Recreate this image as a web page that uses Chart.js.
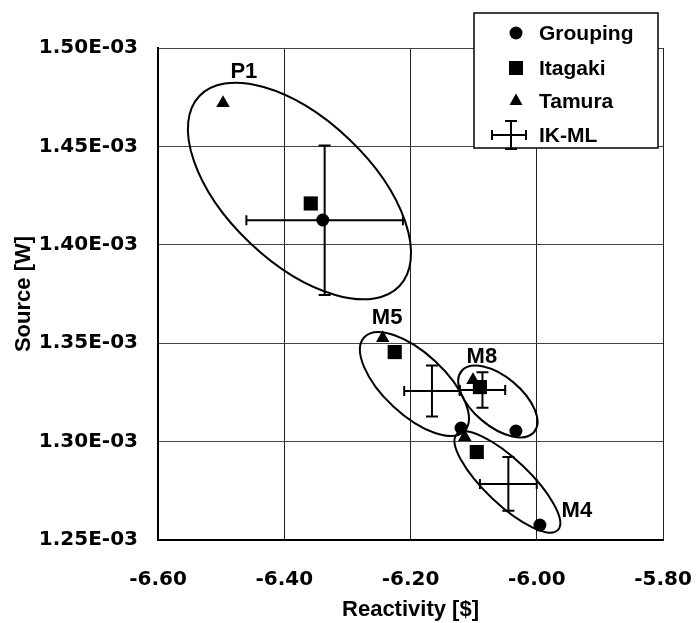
<!DOCTYPE html>
<html>
<head>
<meta charset="utf-8">
<script src="https://cdn.jsdelivr.net/npm/chart.js@4/dist/chart.umd.min.js"></script>
<style>
  html, body { margin: 0; padding: 0; background: #fff; }
</style>
</head>
<body>
<canvas id="myChart" width="699" height="623"></canvas>
<script>
// cluster names, in the order used by every array below
const groups = ['P1', 'M5', 'M8', 'M4']

// reactivity [$] and source [W] per method
const groupingX = [-6.339, -6.120, -6.033, -5.995]
const groupingY = [1.4126e-3, 1.3069e-3, 1.3054e-3, 1.2576e-3]
const itagakiX = [-6.358, -6.225, -6.090, -6.095]
const itagakiY = [1.4210e-3, 1.3455e-3, 1.3277e-3, 1.2947e-3]
const tamuraX = [-6.497, -6.244, -6.101, -6.114]
const tamuraY = [1.4720e-3, 1.3526e-3, 1.3313e-3, 1.3023e-3]
const ikmlX = [-6.336, -6.166, -6.086, -6.045]
const ikmlY = [1.4125e-3, 1.3257e-3, 1.3262e-3, 1.2785e-3]
const ikmlXErr = [0.124, 0.044, 0.036, 0.045]
const ikmlYErr = [0.0380e-3, 0.0130e-3, 0.0090e-3, 0.0137e-3]

// enclosing ellipses: centre, end of the long half-axis, short/long ratio
const ellCx = [-6.3759, -6.1938, -6.0616, -6.0465]
const ellCy = [1.42734e-3, 1.32927e-3, 1.32038e-3, 1.27947e-3]
const ellTipX = [-6.2174, -6.1143, -6.0041, -5.9664]
const ellTipY = [1.37907e-3, 1.30549e-3, 1.30488e-3, 1.25513e-3]
const ellRatio = [0.52, 0.45, 0.52, 0.32]

// where the cluster names sit
const labelX = [-6.464, -6.237, -6.087, -5.9365]
const labelY = [1.4878e-3, 1.3628e-3, 1.3430e-3, 1.2647e-3]

// axis ticks
const xTicks = [-6.6, -6.4, -6.2, -6.0, -5.8]
const yTicks = [1.25e-3, 1.30e-3, 1.35e-3, 1.40e-3, 1.45e-3, 1.50e-3]

const FONT = "'Liberation Sans', Arial, sans-serif"
const TICK_FONT = "'DejaVu Sans', sans-serif"

const pts = (xs, ys) => xs.map((x, i) => ({ x: x, y: ys[i] }))

function marker(ctx, style, x, y) {
  ctx.beginPath()
  if (style === 'circle') {
    ctx.arc(x, y, 6.5, 0, Math.PI * 2)
  } else if (style === 'rect') {
    ctx.rect(x - 7, y - 7, 14, 14)
  } else {
    ctx.moveTo(x, y - 7.5)
    ctx.lineTo(x + 6.5, y + 4)
    ctx.lineTo(x - 6.5, y + 4)
    ctx.closePath()
  }
  ctx.fill()
}

function crossBar(ctx, x0, x1, y0, y1, cx, cy, capH, capV) {
  ctx.beginPath()
  ctx.moveTo(x0, cy); ctx.lineTo(x1, cy)
  ctx.moveTo(x0, cy - capH); ctx.lineTo(x0, cy + capH)
  ctx.moveTo(x1, cy - capH); ctx.lineTo(x1, cy + capH)
  ctx.moveTo(cx, y0); ctx.lineTo(cx, y1)
  ctx.moveTo(cx - capV, y0); ctx.lineTo(cx + capV, y0)
  ctx.moveTo(cx - capV, y1); ctx.lineTo(cx + capV, y1)
  ctx.stroke()
}

const ellipses = {
  id: 'ellipses',
  beforeDatasetsDraw(chart) {
    const { ctx, scales } = chart
    ctx.save()
    ctx.strokeStyle = '#000'
    ctx.lineWidth = 2
    groups.forEach((g, i) => {
      const cx = scales.x.getPixelForValue(ellCx[i])
      const cy = scales.y.getPixelForValue(ellCy[i])
      const tx = scales.x.getPixelForValue(ellTipX[i])
      const ty = scales.y.getPixelForValue(ellTipY[i])
      const a = Math.hypot(tx - cx, ty - cy)
      ctx.beginPath()
      ctx.ellipse(cx, cy, a, a * ellRatio[i], Math.atan2(ty - cy, tx - cx), 0, Math.PI * 2)
      ctx.stroke()
    })
    ctx.restore()
  },
}

const errorBars = {
  id: 'errorBars',
  afterDatasetsDraw(chart) {
    const { ctx, scales } = chart
    ctx.save()
    ctx.strokeStyle = '#000'
    ctx.lineWidth = 2
    ikmlX.forEach((x, i) => {
      const y = ikmlY[i]
      crossBar(ctx,
        scales.x.getPixelForValue(x - ikmlXErr[i]),
        scales.x.getPixelForValue(x + ikmlXErr[i]),
        scales.y.getPixelForValue(y + ikmlYErr[i]),
        scales.y.getPixelForValue(y - ikmlYErr[i]),
        scales.x.getPixelForValue(x),
        scales.y.getPixelForValue(y), 5, 6)
    })
    // cluster names
    ctx.fillStyle = '#000'
    ctx.font = 'bold 22px ' + FONT
    ctx.textAlign = 'center'
    ctx.textBaseline = 'middle'
    groups.forEach((g, i) => {
      ctx.fillText(g, scales.x.getPixelForValue(labelX[i]), scales.y.getPixelForValue(labelY[i]))
    })
    ctx.restore()
  },
}

const boxLegend = {
  id: 'boxLegend',
  afterDraw(chart) {
    const { ctx, chartArea } = chart
    const x0 = chartArea.right - 189
    const y0 = chartArea.top - 35
    ctx.save()
    ctx.fillStyle = '#fff'
    ctx.fillRect(x0, y0, 184, 135)
    ctx.strokeStyle = '#000'
    ctx.lineWidth = 1.5
    ctx.strokeRect(x0, y0, 184, 135)
    ctx.fillStyle = '#000'
    ctx.font = 'bold 21px ' + FONT
    ctx.textBaseline = 'middle'
    const rows = [20, 55, 88, 122]
    chart.data.datasets.forEach((ds, i) => {
      const y = y0 + rows[i]
      if (ds.pointStyle === 'line') {
        ctx.lineWidth = 2
        crossBar(ctx, x0 + 18, x0 + 52, y - 14, y + 14, x0 + 37, y, 5, 6)
      } else {
        marker(ctx, ds.pointStyle, x0 + 42, y)
      }
      ctx.fillText(ds.label, x0 + 65, y + 1)
    })
    ctx.restore()
  },
}

const tickFont = { family: TICK_FONT, size: 20, weight: 'bold' }
const titleFont = { family: FONT, size: 22, weight: 'bold' }

new Chart(document.getElementById('myChart'), {
  type: 'scatter',
  data: {
    datasets: [
      { label: 'Grouping', data: pts(groupingX, groupingY), pointStyle: 'circle', pointRadius: 6.5 },
      { label: 'Itagaki', data: pts(itagakiX, itagakiY), pointStyle: 'rect', pointRadius: 10 },
      { label: 'Tamura', data: pts(tamuraX, tamuraY), pointStyle: 'triangle', pointRadius: 7.8 },
      { label: 'IK-ML', data: pts(ikmlX, ikmlY), pointStyle: 'line', pointRadius: 0 },
    ].map(ds => Object.assign(ds, {
      backgroundColor: '#000',
      borderColor: '#000',
      borderWidth: 0,
      pointHoverRadius: ds.pointRadius,
    })),
  },
  options: {
    responsive: false,
    animation: false,
    events: [],
    layout: { padding: { top: 48, right: 36, left: 0, bottom: 0 } },
    plugins: {
      legend: { display: false },
      tooltip: { enabled: false },
    },
    scales: {
      x: {
        type: 'linear',
        min: xTicks[0],
        max: xTicks[xTicks.length - 1],
        afterBuildTicks: s => { s.ticks = xTicks.map(v => ({ value: v })) },
        afterFit: s => { s.height = 83; s.paddingLeft = 0; s.paddingRight = 0 },
        ticks: {
          color: '#000',
          font: tickFont,
          padding: 28,
          callback: v => v.toFixed(2),
        },
        grid: { color: '#222', lineWidth: 1, drawTicks: false },
        border: { color: '#000', width: 2 },
        title: { display: true, text: 'Reactivity [$]', color: '#000', font: titleFont, padding: { top: 0, bottom: 0 } },
      },
      y: {
        min: yTicks[0],
        max: yTicks[yTicks.length - 1],
        afterBuildTicks: s => { s.ticks = yTicks.map(v => ({ value: v })) },
        afterFit: s => { s.width = 158; s.paddingTop = 0; s.paddingBottom = 0 },
        ticks: {
          color: '#000',
          font: tickFont,
          padding: 20,
          callback: v => (v * 1000).toFixed(2) + 'E-03',
        },
        grid: { color: '#444', lineWidth: 1, drawTicks: false },
        border: { color: '#000', width: 2 },
        title: { display: true, text: 'Source [W]', color: '#000', font: titleFont, padding: { top: 11, bottom: 11 } },
      },
    },
  },
  plugins: [ellipses, errorBars, boxLegend],
})
</script>
</body>
</html>
